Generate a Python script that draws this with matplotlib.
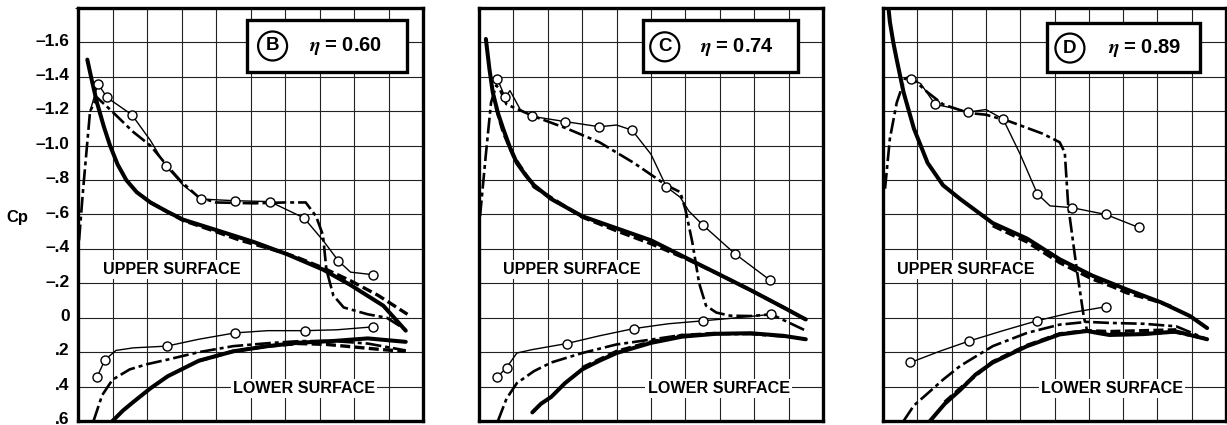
import matplotlib
matplotlib.use("Agg")
import matplotlib.pyplot as plt
from matplotlib.patches import Rectangle
from matplotlib.transforms import ScaledTranslation

plt.rcParams['font.family'] = ['Liberation Sans', 'DejaVu Sans']
plt.rcParams['font.weight'] = 'bold'
plt.rcParams['mathtext.fontset'] = 'stix'

# ---- panel B, eta = 0.60 ----
b_thick_up_x = [0.027, 0.04, 0.055, 0.075, 0.093, 0.115, 0.14, 0.17, 0.21, 0.26, 0.305, 0.40, 0.51, 0.605, 0.71, 0.79, 0.885, 0.95]
b_thick_up_y = [-1.50, -1.38, -1.25, -1.11, -1.0, -0.89, -0.80, -0.73, -0.67, -0.615, -0.57, -0.51, -0.44, -0.37, -0.28, -0.19, -0.07, 0.075]
b_dash_up_x = [0.21, 0.305, 0.40, 0.47, 0.55, 0.63, 0.71, 0.79, 0.87, 0.955]
b_dash_up_y = [-0.67, -0.565, -0.50, -0.45, -0.405, -0.355, -0.29, -0.215, -0.13, -0.02]
b_dd_up_x = [0.003, 0.015, 0.035, 0.055, 0.093, 0.16, 0.21, 0.26, 0.30, 0.35, 0.40, 0.51, 0.60, 0.66, 0.69, 0.71, 0.72, 0.74, 0.77, 0.84, 0.895, 0.95]
b_dd_up_y = [-0.45, -0.75, -1.2, -1.28, -1.21, -1.08, -1.0, -0.88, -0.79, -0.70, -0.67, -0.665, -0.67, -0.67, -0.59, -0.48, -0.28, -0.13, -0.06, -0.02, 0.0, 0.07]
b_exp_up_x = [0.035, 0.058, 0.084, 0.156, 0.21, 0.255, 0.305, 0.356, 0.455, 0.556, 0.655, 0.71, 0.755, 0.79, 0.855]
b_exp_up_y = [-1.2, -1.36, -1.28, -1.18, -1.03, -0.88, -0.77, -0.69, -0.68, -0.675, -0.58, -0.45, -0.33, -0.265, -0.25]
b_exp_up_marks = [1, 2, 3, 5, 7, 8, 9, 10, 12, 14]

b_thick_lo_x = [0.10, 0.13, 0.16, 0.21, 0.26, 0.35, 0.45, 0.55, 0.64, 0.74, 0.84, 0.95]
b_thick_lo_y = [0.6, 0.54, 0.49, 0.41, 0.34, 0.25, 0.195, 0.165, 0.145, 0.135, 0.12, 0.14]
b_dash_lo_x = [0.35, 0.45, 0.55, 0.64, 0.72, 0.80, 0.88, 0.95]
b_dash_lo_y = [0.25, 0.195, 0.165, 0.15, 0.155, 0.17, 0.185, 0.195]
b_dd_lo_x = [0.045, 0.07, 0.10, 0.15, 0.20, 0.26, 0.35, 0.45, 0.55, 0.64, 0.74, 0.84, 0.95]
b_dd_lo_y = [0.6, 0.45, 0.36, 0.30, 0.27, 0.243, 0.20, 0.165, 0.148, 0.136, 0.135, 0.15, 0.19]
b_exp_lo_x = [0.055, 0.078, 0.11, 0.16, 0.257, 0.35, 0.455, 0.55, 0.658, 0.75, 0.855]
b_exp_lo_y = [0.345, 0.245, 0.19, 0.175, 0.165, 0.125, 0.088, 0.075, 0.075, 0.07, 0.053]
b_exp_lo_marks = [0, 1, 4, 6, 8, 10]

# ---- panel C, eta = 0.74 ----
c_thick_up_x = [0.02, 0.03, 0.04, 0.055, 0.07, 0.09, 0.11, 0.135, 0.16, 0.21, 0.30, 0.40, 0.50, 0.59, 0.69, 0.79, 0.885, 0.95]
c_thick_up_y = [-1.62, -1.45, -1.31, -1.19, -1.10, -0.99, -0.90, -0.83, -0.77, -0.69, -0.59, -0.52, -0.45, -0.36, -0.26, -0.16, -0.06, 0.01]
c_dash_up_x = [0.05, 0.07, 0.10, 0.16, 0.30, 0.40, 0.50, 0.60, 0.69, 0.79, 0.885, 0.95]
c_dash_up_y = [-1.22, -1.08, -0.94, -0.76, -0.585, -0.505, -0.43, -0.345, -0.26, -0.16, -0.06, 0.01]
c_dd_up_x = [0.003, 0.02, 0.035, 0.05, 0.06, 0.08, 0.16, 0.255, 0.35, 0.45, 0.545, 0.585, 0.60, 0.62, 0.64, 0.66, 0.69, 0.73, 0.79, 0.85, 0.95]
c_dd_up_y = [-0.59, -0.95, -1.25, -1.35, -1.33, -1.24, -1.17, -1.10, -1.02, -0.90, -0.77, -0.73, -0.63, -0.44, -0.20, -0.07, -0.03, -0.012, -0.01, -0.02, 0.075]
c_exp_up_x = [0.053, 0.076, 0.09, 0.12, 0.155, 0.25, 0.35, 0.40, 0.445, 0.50, 0.545, 0.585, 0.61, 0.65, 0.745, 0.845]
c_exp_up_y = [-1.39, -1.28, -1.32, -1.21, -1.17, -1.14, -1.11, -1.12, -1.09, -0.95, -0.76, -0.70, -0.62, -0.54, -0.37, -0.22]
c_exp_up_marks = [0, 1, 4, 5, 6, 8, 10, 13, 14, 15]

c_thick_lo_x = [0.155, 0.18, 0.21, 0.25, 0.30, 0.35, 0.40, 0.50, 0.59, 0.69, 0.79, 0.885, 0.95]
c_thick_lo_y = [0.55, 0.50, 0.46, 0.38, 0.30, 0.25, 0.205, 0.146, 0.11, 0.093, 0.09, 0.105, 0.125]
c_dash_lo_x = [0.30, 0.40, 0.50, 0.59, 0.69]
c_dash_lo_y = [0.29, 0.195, 0.14, 0.103, 0.09]
c_dd_lo_x = [0.055, 0.08, 0.11, 0.16, 0.21, 0.30, 0.40, 0.50, 0.59, 0.69, 0.79, 0.89, 0.95]
c_dd_lo_y = [0.6, 0.47, 0.38, 0.31, 0.26, 0.205, 0.155, 0.127, 0.10, 0.095, 0.095, 0.11, 0.125]
c_exp_lo_x = [0.053, 0.08, 0.11, 0.155, 0.255, 0.35, 0.45, 0.55, 0.65, 0.75, 0.85]
c_exp_lo_y = [0.345, 0.29, 0.205, 0.185, 0.15, 0.105, 0.063, 0.035, 0.018, 0.0, -0.02]
c_exp_lo_marks = [0, 1, 4, 6, 8, 10]

# ---- panel D, eta = 0.89 ----
d_thick_up_x = [0.015, 0.02, 0.03, 0.04, 0.06, 0.09, 0.13, 0.175, 0.225, 0.32, 0.42, 0.515, 0.61, 0.71, 0.81, 0.895, 0.945]
d_thick_up_y = [-1.82, -1.72, -1.6, -1.50, -1.31, -1.10, -0.90, -0.77, -0.69, -0.55, -0.46, -0.34, -0.245, -0.165, -0.09, -0.01, 0.06]
d_dash_up_x = [0.32, 0.42, 0.515, 0.61, 0.67, 0.71, 0.79, 0.85]
d_dash_up_y = [-0.535, -0.44, -0.32, -0.225, -0.18, -0.145, -0.10, -0.06]
d_dd_up_x = [0.006, 0.02, 0.04, 0.064, 0.08, 0.13, 0.175, 0.25, 0.30, 0.37, 0.465, 0.515, 0.53, 0.54, 0.565, 0.585, 0.595, 0.66, 0.76, 0.85, 0.945]
d_dd_up_y = [-0.75, -1.04, -1.25, -1.39, -1.40, -1.31, -1.24, -1.19, -1.18, -1.14, -1.07, -1.02, -0.96, -0.65, -0.28, -0.01, 0.075, 0.09, 0.095, 0.085, 0.125]
d_exp_up_x = [0.082, 0.11, 0.152, 0.2, 0.248, 0.30, 0.35, 0.40, 0.45, 0.487, 0.55, 0.65, 0.745]
d_exp_up_y = [-1.39, -1.36, -1.24, -1.22, -1.195, -1.21, -1.155, -0.95, -0.72, -0.65, -0.64, -0.60, -0.525]
d_exp_up_marks = [0, 2, 4, 6, 8, 10, 11, 12]

d_thick_lo_x = [0.137, 0.18, 0.225, 0.27, 0.32, 0.42, 0.515, 0.595, 0.63, 0.66, 0.76, 0.855, 0.945]
d_thick_lo_y = [0.6, 0.50, 0.42, 0.33, 0.26, 0.165, 0.097, 0.077, 0.09, 0.10, 0.095, 0.08, 0.125]
d_dash_lo_x = [0.18, 0.225, 0.32, 0.42, 0.515, 0.595, 0.66, 0.76, 0.855]
d_dash_lo_y = [0.49, 0.41, 0.255, 0.16, 0.093, 0.075, 0.08, 0.075, 0.07]
d_dd_lo_x = [0.06, 0.09, 0.13, 0.175, 0.225, 0.32, 0.42, 0.515, 0.595, 0.66, 0.76, 0.855, 0.945]
d_dd_lo_y = [0.6, 0.51, 0.44, 0.36, 0.28, 0.165, 0.088, 0.04, 0.024, 0.03, 0.035, 0.05, 0.125]
d_exp_lo_x = [0.08, 0.165, 0.25, 0.35, 0.45, 0.55, 0.65]
d_exp_lo_y = [0.26, 0.195, 0.136, 0.075, 0.017, -0.03, -0.064]
d_exp_lo_marks = [0, 2, 4, 6]

panel_letters = ['B', 'C', 'D']
panel_etas = ['0.60', '0.74', '0.89']

y_tick_vals = [-1.6, -1.4, -1.2, -1.0, -0.8, -0.6, -0.4, -0.2, 0.0, 0.2, 0.4, 0.6]
y_tick_labels = ['–1.6', '–1.4', '–1.2', '–1.0', '–.8', '–.6', '–.4', '–.2', '0', '.2', '.4', '.6']

panels = [
    dict(thick=[(b_thick_up_x, b_thick_up_y), (b_thick_lo_x, b_thick_lo_y)],
         dash=[(b_dash_up_x, b_dash_up_y), (b_dash_lo_x, b_dash_lo_y)],
         dd=[(b_dd_up_x, b_dd_up_y), (b_dd_lo_x, b_dd_lo_y)],
         exp=[(b_exp_up_x, b_exp_up_y, b_exp_up_marks), (b_exp_lo_x, b_exp_lo_y, b_exp_lo_marks)],
         pos=[78, 345], box=(0.491, 0.845, 0.462, 0.126), circ=(0.564, 0.908), eta=0.775,
         upper=0.072, lower=0.45),
    dict(thick=[(c_thick_up_x, c_thick_up_y), (c_thick_lo_x, c_thick_lo_y)],
         dash=[(c_dash_up_x, c_dash_up_y), (c_dash_lo_x, c_dash_lo_y)],
         dd=[(c_dd_up_x, c_dd_up_y), (c_dd_lo_x, c_dd_lo_y)],
         exp=[(c_exp_up_x, c_exp_up_y, c_exp_up_marks), (c_exp_lo_x, c_exp_lo_y, c_exp_lo_marks)],
         pos=[479, 344], box=(0.477, 0.845, 0.45, 0.126), circ=(0.54, 0.906), eta=0.75,
         upper=0.07, lower=0.49),
    dict(thick=[(d_thick_up_x, d_thick_up_y), (d_thick_lo_x, d_thick_lo_y)],
         dash=[(d_dash_up_x, d_dash_up_y), (d_dash_lo_x, d_dash_lo_y)],
         dd=[(d_dd_up_x, d_dd_up_y), (d_dd_lo_x, d_dd_lo_y)],
         exp=[(d_exp_up_x, d_exp_up_y, d_exp_up_marks), (d_exp_lo_x, d_exp_lo_y, d_exp_lo_marks)],
         pos=[883, 343], box=(0.478, 0.845, 0.446, 0.119), circ=(0.545, 0.903), eta=0.764,
         upper=0.04, lower=0.46),
]

W, H = 1227, 425
fig = plt.figure(figsize=(W / 100, H / 100), dpi=100)

for i, p in enumerate(panels):
    left, width = p['pos']
    ax = fig.add_axes([left / W, 4 / H, width / W, 413 / H])
    ax.set_xlim(0, 1)
    ax.set_ylim(0.6, -1.8)
    ax.set_xticks([k / 10 for k in range(11)])
    ax.set_yticks([-1.8 + 0.2 * k for k in range(13)])
    ax.grid(True, color='#222222', lw=0.8)
    ax.set_axisbelow(True)
    ax.tick_params(length=0, labelbottom=False, labelleft=False)
    for s in ax.spines.values():
        s.set_linewidth(2.4)

    for x, y in p['thick']:
        ax.plot(x, y, color='black', lw=2.9, solid_capstyle='round', solid_joinstyle='round', zorder=3)
    for x, y in p['dash']:
        ax.plot(x, y, color='black', lw=2.4, dashes=(3, 1.3), zorder=3)
    for x, y in p['dd']:
        ax.plot(x, y, color='black', lw=1.9, dashes=(6, 1.5, 1.5, 1.5), zorder=3)
    for x, y, m in p['exp']:
        ax.plot(x, y, color='black', lw=1.0, marker='o', markevery=m, ms=6.5,
                mfc='white', mec='black', mew=1.0, zorder=4)

    white = dict(facecolor='white', edgecolor='none', pad=1.5)
    ax.text(p['upper'], -0.28, 'UPPER SURFACE', fontsize=11.6, ha='left', va='center',
            bbox=white, zorder=5)
    ax.text(p['lower'], 0.41, 'LOWER SURFACE', fontsize=11.6, ha='left', va='center',
            bbox=white, zorder=5)

    bx, by, bw, bh = p['box']
    ax.add_patch(Rectangle((bx, by), bw, bh, transform=ax.transAxes, facecolor='white',
                           edgecolor='black', lw=2.4, zorder=6))
    ax.text(p['circ'][0], p['circ'][1], panel_letters[i], transform=ax.transAxes,
            fontsize=13.5, ha='center', va='center', zorder=7,
            bbox=dict(boxstyle='circle,pad=0.32', facecolor='white', edgecolor='black', lw=1.6))
    ax.text(p['eta'], p['circ'][1], r'$\eta$ = ' + panel_etas[i], transform=ax.transAxes,
            fontsize=14.5, ha='center', va='center', zorder=7)

    if i == 0:
        ax.set_yticks(y_tick_vals, labels=y_tick_labels, minor=False)
        ax.set_yticks([-1.8], minor=True)
        ax.grid(True, which='minor', color='#222222', lw=0.8)
        ax.tick_params(labelleft=True, length=0, pad=6, labelsize=12.5)
        shift = ScaledTranslation(0, 2 / 72, fig.dpi_scale_trans)
        for lab in ax.get_yticklabels():
            lab.set_transform(lab.get_transform() + shift)
        ax.text(-0.175, -0.58, 'Cp', fontsize=12, ha='center', va='center')

fig.savefig('out.png', dpi=100)
